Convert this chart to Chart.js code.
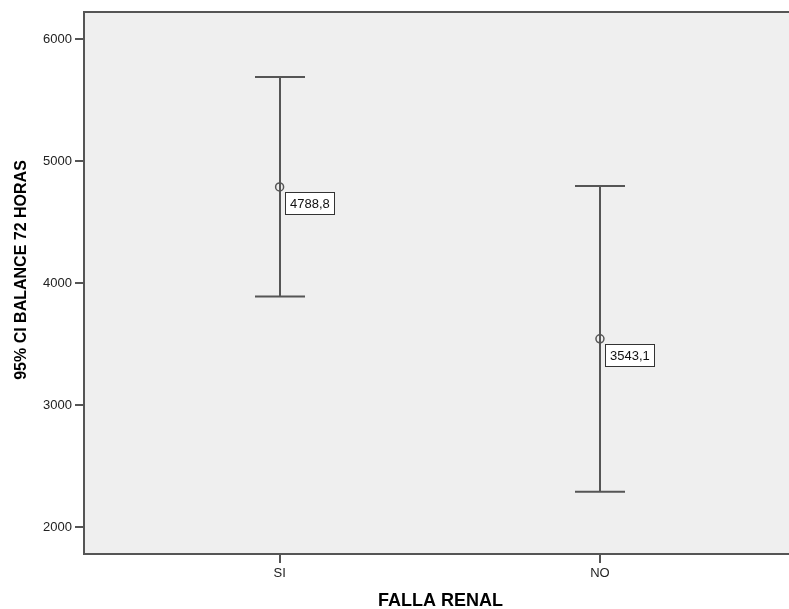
<!DOCTYPE html>
<html>
<head>
<meta charset="utf-8">
<script src="https://cdn.jsdelivr.net/npm/chart.js@4"></script>
<style>
	html, body { margin: 0; padding: 0; background: #fff; }
	#wrap { width: 789px; height: 609px; }
</style>
</head>
<body>
<div id="wrap"><canvas id="chart" width="789" height="609"></canvas></div>
<script>
(function () {
	'use strict';

	// Data.
	var categories = ['SI', 'NO'];
	var means      = [4788.8, 3543.1];
	var lower      = [3890, 2289];
	var upper      = [5690, 4796];
	var yTicks     = [2000, 3000, 4000, 5000, 6000];
	var xTitle     = 'FALLA RENAL';
	var yTitle     = '95% CI BALANCE 72 HORAS';

	var INK = '#555555';
	var FONT = 'Liberation Sans, Arial, sans-serif';

	function fmt(v) {
		return v.toFixed(1).replace('.', ',');
	}

	var points = means.map(function (m, i) { return { x: i + 1, y: m }; });

	// --- Plot background, reaching the right edge like the original ---
	var plotBg = {
		id: 'plotBg',
		beforeDraw: function (chart) {
			var a = chart.chartArea;
			chart.ctx.save();
			chart.ctx.fillStyle = '#efefef';
			chart.ctx.fillRect(a.left, a.top, chart.width - a.left, a.bottom - a.top);
			chart.ctx.restore();
		}
	};

	// --- Error bars, value boxes, frame and axis titles ---
	var errorBars = {
		id: 'errorBars',
		beforeDatasetsDraw: function (chart) {
			var ctx = chart.ctx;
			var xs = chart.scales.x, ys = chart.scales.y;
			ctx.save();
			ctx.strokeStyle = INK;
			ctx.lineWidth = 2;
			for (var i = 0; i < categories.length; i++) {
				var x = Math.round(xs.getPixelForValue(i + 1));
				var yl = ys.getPixelForValue(lower[i]);
				var yu = ys.getPixelForValue(upper[i]);
				ctx.beginPath();
				ctx.moveTo(x, yu); ctx.lineTo(x, yl);
				ctx.moveTo(x - 25, yu); ctx.lineTo(x + 25, yu);
				ctx.moveTo(x - 25, yl); ctx.lineTo(x + 25, yl);
				ctx.stroke();
			}
			ctx.restore();
		},
		afterDatasetsDraw: function (chart) {
			var ctx = chart.ctx;
			var xs = chart.scales.x, ys = chart.scales.y;
			var a = chart.chartArea;
			ctx.save();
			ctx.font = '13px ' + FONT;
			ctx.textBaseline = 'middle';
			for (var i = 0; i < means.length; i++) {
				var px = xs.getPixelForValue(i + 1);
				var py = ys.getPixelForValue(means[i]);
				var txt = fmt(means[i]);
				var w = Math.round(ctx.measureText(txt).width) + 9;
				var bx = Math.round(px + 5) + 0.5, by = Math.round(py + 5) + 0.5;
				ctx.fillStyle = '#ffffff';
				ctx.fillRect(bx, by, w, 22);
				ctx.strokeStyle = '#333333';
				ctx.lineWidth = 1;
				ctx.strokeRect(bx, by, w, 22);
				ctx.fillStyle = '#111111';
				ctx.fillText(txt, bx + 4.5, by + 11.5);
			}
			// Frame: left, top and bottom only; right side runs off the picture
			ctx.strokeStyle = INK;
			ctx.lineWidth = 2;
			ctx.beginPath();
			ctx.moveTo(chart.width, a.top); ctx.lineTo(a.left, a.top);
			ctx.lineTo(a.left, a.bottom); ctx.lineTo(chart.width, a.bottom);
			ctx.stroke();
			// Axis titles
			ctx.fillStyle = '#000';
			ctx.textBaseline = 'alphabetic';
			ctx.textAlign = 'center';
			ctx.font = 'bold 18px ' + FONT;
			ctx.fillText(xTitle, 440.5, 605.5);
			ctx.translate(25.5, 270);
			ctx.rotate(-Math.PI / 2);
			ctx.font = 'bold 16px ' + FONT;
			ctx.fillText(yTitle, 0, 0);
			ctx.restore();
		}
	};

	new Chart(document.getElementById('chart'), {
		type: 'scatter',
		data: {
			datasets: [{
				data: points,
				pointStyle: 'circle',
				pointRadius: 4,
				pointBorderWidth: 1.5,
				pointBorderColor: INK,
				pointBackgroundColor: 'rgba(0,0,0,0)'
			}]
		},
		options: {
			responsive: false,
			animation: false,
			layout: { padding: { top: 12, right: 0, left: 0, bottom: 0 } },
			plugins: { legend: { display: false }, tooltip: { enabled: false } },
			scales: {
				x: {
					type: 'linear',
					min: 0.3894,
					max: 2.573,
					afterFit: function (s) { s.height = 55; },
					afterBuildTicks: function (s) { s.ticks = categories.map(function (c, i) { return { value: i + 1 }; }); },
					ticks: {
						color: '#222',
						font: { family: FONT, size: 13 },
						padding: 3,
						callback: function (v) { return categories[v - 1]; }
					},
					grid: { drawOnChartArea: false, drawTicks: true, tickLength: 9, color: INK, lineWidth: 2 },
					border: { display: false }
				},
				y: {
					min: 1778,
					max: 6224,
					afterFit: function (s) { s.width = 84; },
					afterBuildTicks: function (s) { s.ticks = yTicks.map(function (v) { return { value: v }; }); },
					ticks: {
						color: '#222',
						font: { family: FONT, size: 13 },
						padding: 3,
						callback: function (v) { return String(v); }
					},
					grid: { drawOnChartArea: false, drawTicks: true, tickLength: 9, color: INK, lineWidth: 2 },
					border: { display: false }
				}
			}
		},
		plugins: [plotBg, errorBars]
	});
})();
</script>
</body>
</html>
